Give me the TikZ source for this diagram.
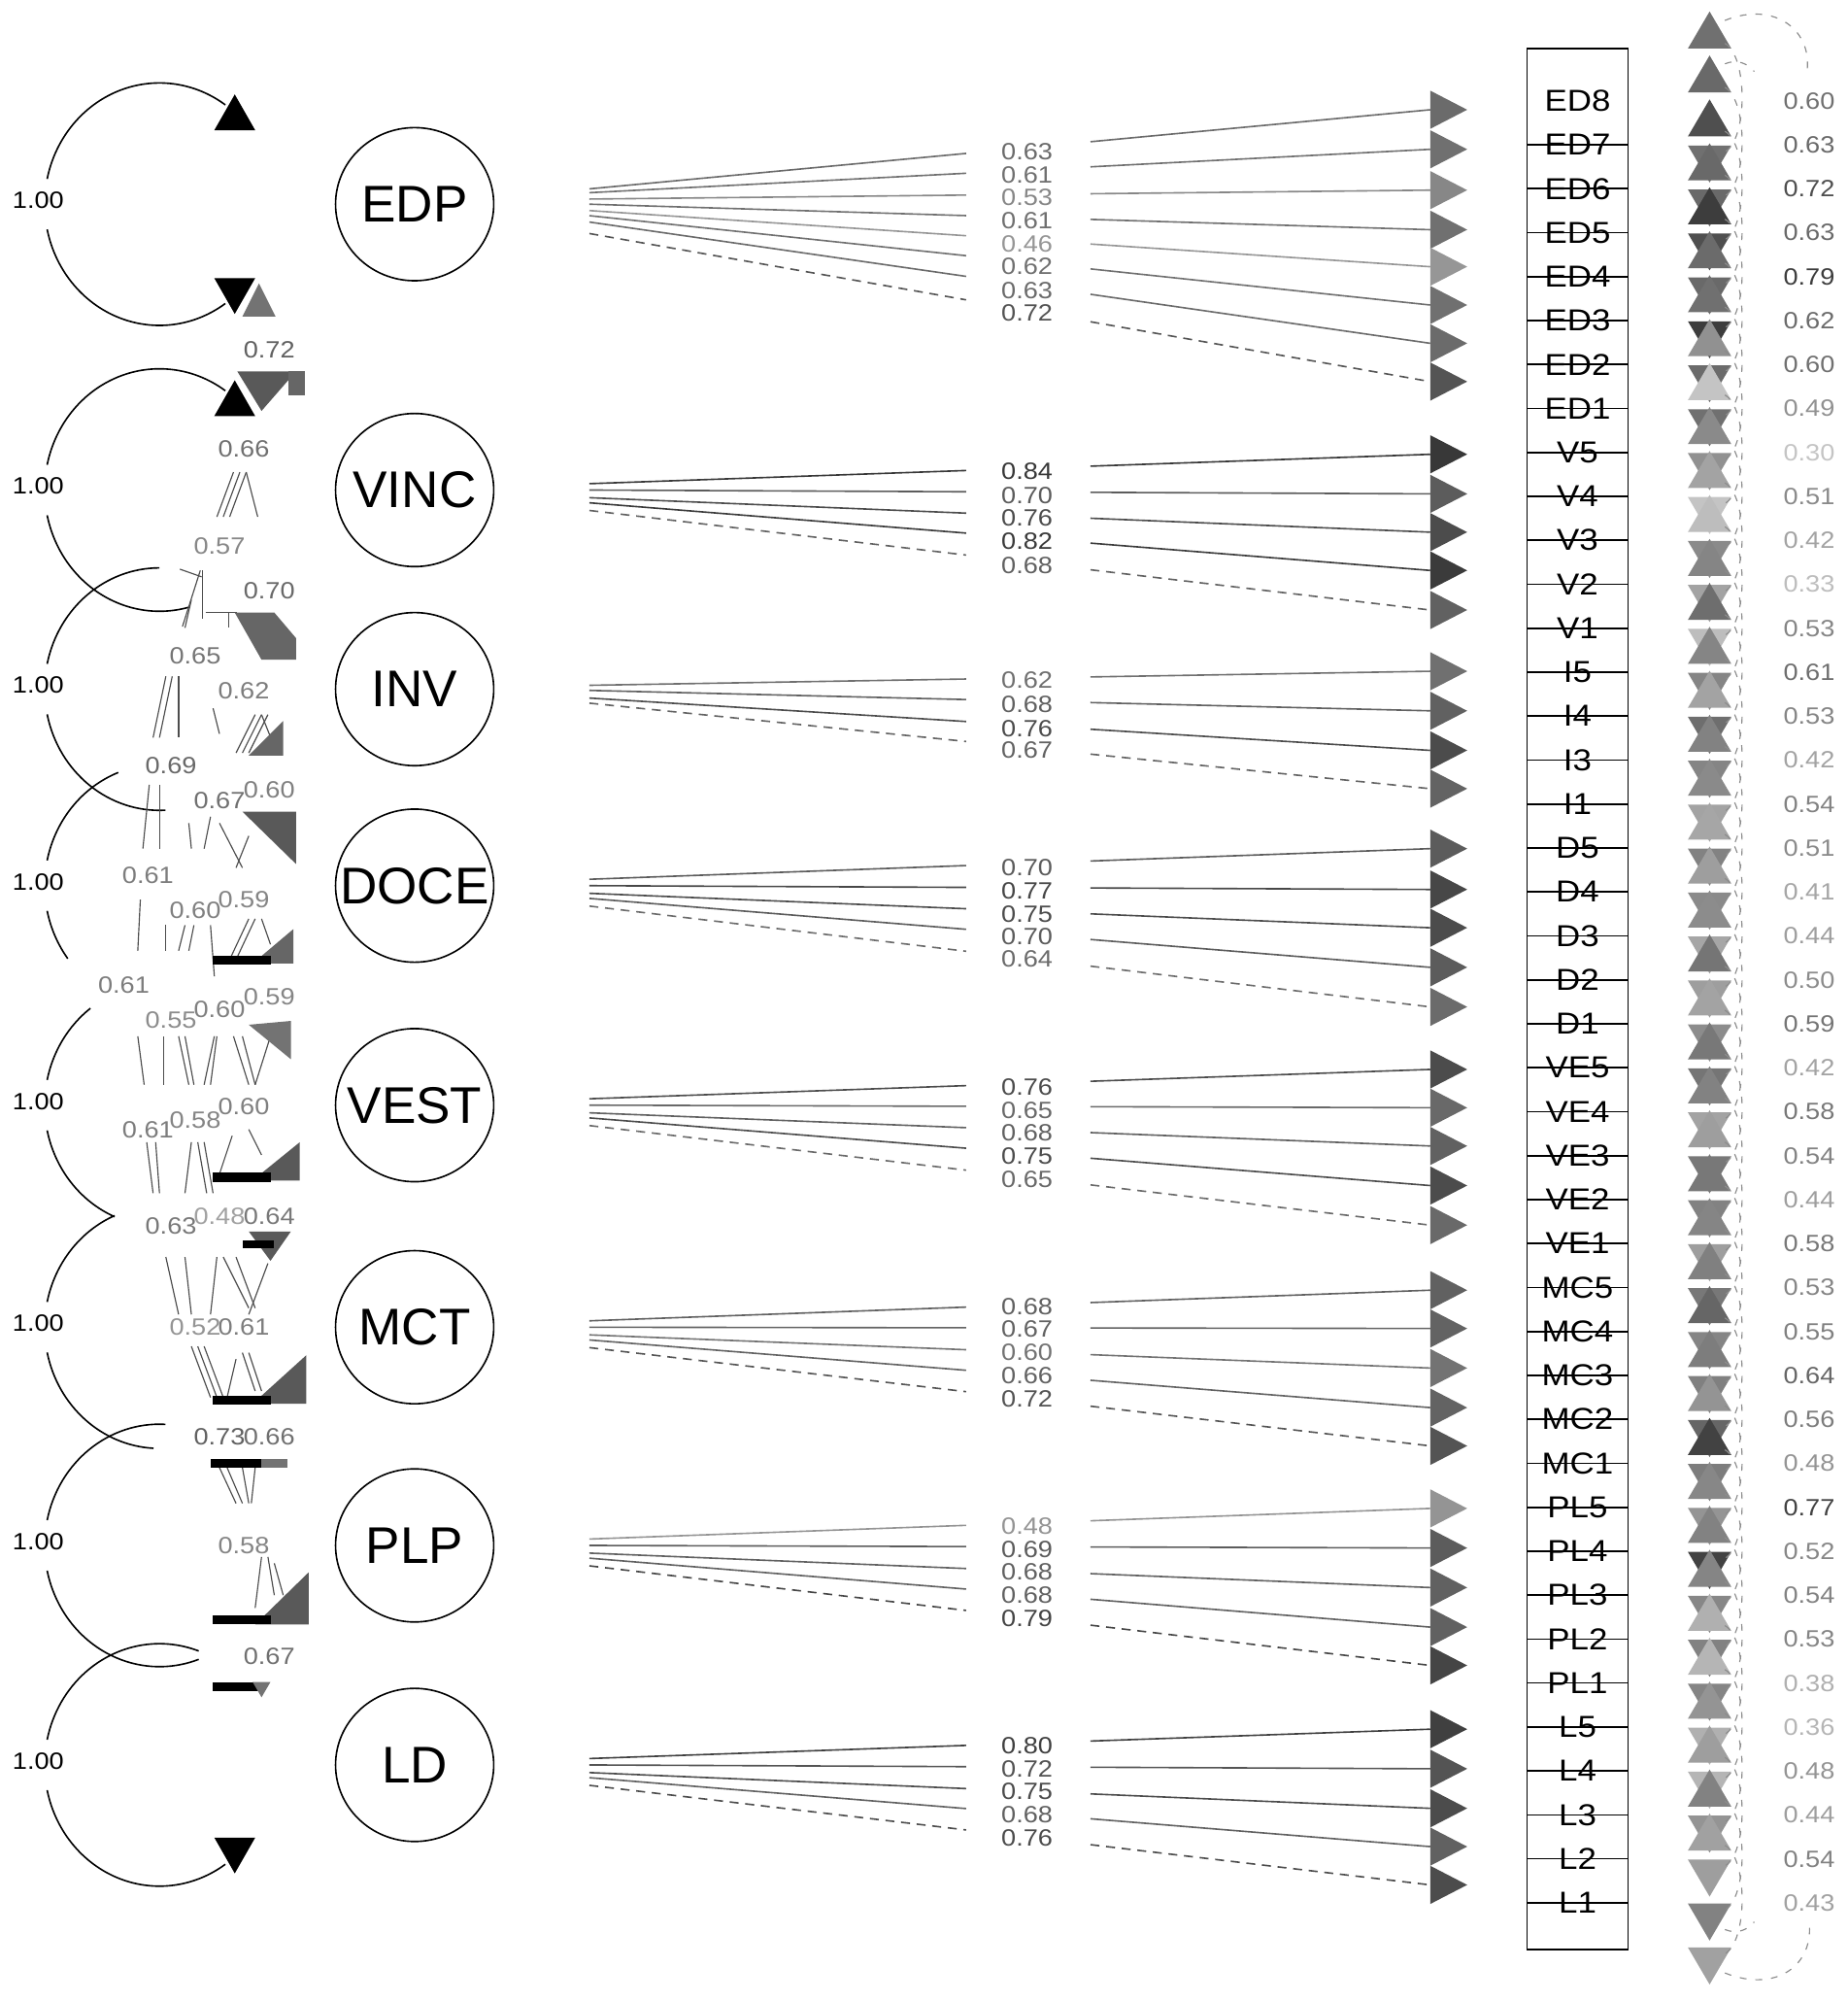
\documentclass[tikz,border=0pt]{standalone}
\usepackage{fontspec}
\setmainfont{Liberation Sans}
\newfontfamily\numfont[FakeStretch=1.12]{Liberation Sans}
\usetikzlibrary{calc,shapes.geometric}

\tikzset{
  latent/.style={draw, ellipse, line width=0.7pt, minimum width=2.48cm, minimum height=2.4cm, inner xsep=-9pt, inner ysep=0pt, font=\fontsize{23}{26}\selectfont},
  item/.style={inner sep=0pt, font=\numfont\fontsize{13.5}{15}\selectfont},
  num/.style={inner sep=0pt, font=\numfont\fontsize{10.5}{12}\selectfont},
  load/.style={line width=0.7pt},
  dsh/.style={dash pattern=on 4pt off 3pt},
  varloop/.style={line width=0.7pt},
  covline/.style={line width=0.5pt, black!70},
  resid/.style={line width=0.5pt, black!45, dash pattern=on 3pt off 4pt},
  sep/.style={line width=0.7pt}
}

\begin{document}
\begin{tikzpicture}[x=0.02cm, y=-0.02cm]
\useasboundingbox (0,0) rectangle (1448,1568);
%%Latents
\node[latent] (EDP) at (325,160) {EDP};
\node[latent] (VINC) at (325,384) {VINC};
\node[latent] (INV) at (325,540) {INV};
\node[latent] (DOCE) at (325,694) {DOCE};
\node[latent] (VEST) at (325,866) {VEST};
\node[latent] (MCT) at (325,1040) {MCT};
\node[latent] (PLP) at (325,1211) {PLP};
\node[latent] (LD) at (325,1383) {LD};

%%Variance loops
\foreach \c/\ta/\ba in {160/-55/55, 384/-55/75, 540/-90/87, 694/-111/143, 866/-127/113, 1040/-113/93, 1211/-87/70, 1383/-70/55}
{
  \draw[varloop] (125,\c) ++(\ta:90 and 95) arc[start angle=\ta, end angle=-168, x radius=90, y radius=95];
  \draw[varloop] (125,\c) ++(168:90 and 95) arc[start angle=168, end angle=\ba, x radius=90, y radius=95];
  \node[num] at (30,\c-3) {1.00};
}
\fill (184,74) -- (168,102) -- (200,102) -- cycle;
\fill (168,218) -- (200,218) -- (184,246) -- cycle;
\fill (184,298) -- (168,326) -- (200,326) -- cycle;
\fill (168,1440) -- (200,1440) -- (184,1468) -- cycle;

%%Covariances
\foreach \xa/\ya/\xb/\yb in {
  170/405/183/370, 175/405/188/370, 180/405/193/370, 193/370/202/405,
  157/447/143/491, 159/447/159/485, 150/470/145/492, 141/446/158/452,
  120/578/130/530, 125/578/135/530, 140/530/140/578, 167/555/172/575,
  185/590/200/560, 190/590/205/560, 195/590/210/560, 205/560/215/585,
  112/665/117/615, 125/665/125/615,
  150/665/148/645, 160/665/165/640, 172/645/190/680, 185/680/195/655,
  108/745/110/705,
  130/745/130/725, 140/745/145/725, 148/745/152/725, 165/725/168/765,
  180/752/195/720, 185/752/200/720, 205/720/212/740,
  108/812/113/850, 128/812/128/850, 140/812/148/850, 145/812/152/850,
  160/850/168/812, 165/850/170/812, 183/812/195/850, 190/812/200/850, 200/850/212/812,
  115/895/120/935, 122/895/125/935, 145/935/150/895, 155/895/162/935, 160/895/167/935,
  172/920/182/890, 195/885/205/905,
  130/985/140/1030, 145/985/150/1030, 165/1030/170/985, 175/985/195/1025, 185/985/200/1025, 195/1030/210/990,
  150/1055/165/1095, 155/1055/170/1095, 160/1055/175/1095, 178/1095/185/1065, 190/1060/200/1090, 195/1060/205/1090,
  172/1150/185/1178, 178/1150/190/1178, 190/1150/195/1178, 200/1150/197/1178,
  205/1220/200/1260, 210/1220/215/1250, 215/1225/222/1250}
  \draw[covline] (\xa,\ya) -- (\xb,\yb);
\fill[black!55] (203,222) -- (190,248) -- (216,248) -- cycle;
\fill[black!65] (186,291) -- (232,291) -- (205,322) -- cycle;
\fill[black!60] (226,291) rectangle (239,310);
\draw[covline] (161,480) -- (186,480) (179,480) -- (179,492);
\fill[black!60] (184,480) -- (215,480) -- (232,500) -- (232,517) -- (205,517) -- cycle;
\fill[black!60] (222,565) -- (222,592) -- (195,592) -- cycle;
\fill[black!65] (190,636) -- (232,636) -- (232,677) -- cycle;
\fill[black!60] (230,728) -- (230,755) -- (198,755) -- cycle;
\fill (167,749) rectangle (212,756);
\fill[black!55] (195,803) -- (228,800) -- (228,830) -- cycle;
\fill[black!65] (235,895) -- (235,925) -- (198,925) -- cycle;
\fill (167,919) rectangle (212,926);
\fill[black!65] (195,965) -- (228,965) -- (212,988) -- cycle;
\fill (190,972) rectangle (215,978);
\fill[black!65] (240,1062) -- (240,1100) -- (198,1100) -- cycle;
\fill (167,1094) rectangle (212,1101);
\fill (165,1143) rectangle (212,1150);
\fill[black!55] (205,1143) rectangle (225,1150);
\fill[black!65] (242,1232) -- (242,1273) -- (200,1273) -- cycle;
\fill (167,1266) rectangle (212,1273);
\fill (167,1318) rectangle (205,1325);
\fill[black!55] (198,1318) -- (212,1318) -- (205,1330) -- cycle;
\foreach \x/\y/\v in {211/274/0.72, 191/352/0.66, 172/428/0.57, 211/463/0.70, 153/514/0.65, 191/541/0.62,
  134/600/0.69, 172/627/0.67, 211/619/0.60, 116/686/0.61, 153/713/0.60, 191/705/0.59,
  97/772/0.61, 134/799/0.55, 172/791/0.60, 211/781/0.59, 116/885/0.61, 153/878/0.58, 191/867/0.60,
  134/961/0.63, 172/953/0.48, 211/953/0.64, 153/1040/0.52, 191/1040/0.61, 172/1126/0.73, 211/1126/0.66,
  191/1211/0.58, 211/1298/0.67}
{
  \pgfmathtruncatemacro\g{\v*100-10}
  \node[num, text=black!\g] at (\x,\y) {\v};
}

%%Items
\node[draw, line width=0.7pt, minimum width=1.58cm, minimum height=29.8cm, inner sep=0pt] (box) at (1236.5,783) {};
\foreach \lab [count=\k from 0] in {ED8,ED7,ED6,ED5,ED4,ED3,ED2,ED1,V5,V4,V3,V2,V1,I5,I4,I3,I1,D5,D4,D3,D2,D1,VE5,VE4,VE3,VE2,VE1,MC5,MC4,MC3,MC2,MC1,PL5,PL4,PL3,PL2,PL1,L5,L4,L3,L2,L1}
  \node[item] (\lab) at (1236.5,{79+34.44*\k}) {\lab};
\foreach \lab in {ED7,ED6,ED5,ED4,ED3,ED2,ED1,V5,V4,V3,V2,V1,I5,I4,I3,I1,D5,D4,D3,D2,D1,VE5,VE4,VE3,VE2,VE1,MC5,MC4,MC3,MC2,MC1,PL5,PL4,PL3,PL2,PL1,L5,L4,L3,L2,L1}
  \draw[sep] (box.west |- \lab) -- (box.east |- \lab);

%%Loadings
\foreach \lat/\lab/\o/\a/\l/\v/\d in {
  EDP/ED8/-12/86/119/0.63/solid, EDP/ED7/-9/117/137/0.61/solid, EDP/ED6/-4/149/155/0.53/solid,
  EDP/ED5/0/180/173/0.61/solid, EDP/ED4/5/209/191/0.46/solid, EDP/ED3/9/239/209/0.62/solid,
  EDP/ED2/14/269/228/0.63/solid, EDP/ED1/23/299/245/0.72/dsh,
  VINC/V5/-5/356/369/0.84/solid, VINC/V4/0/387/388/0.70/solid, VINC/V3/6/417/406/0.76/solid,
  VINC/V2/10/447/424/0.82/solid, VINC/V1/16/478/443/0.68/dsh,
  INV/I5/-3/526/533/0.62/solid, INV/I4/1/557/552/0.68/solid, INV/I3/7/588/571/0.76/solid,
  INV/I1/11/618/588/0.67/dsh,
  DOCE/D5/-5/665/680/0.70/solid, DOCE/D4/0/697/698/0.77/solid, DOCE/D3/6/727/716/0.75/solid,
  DOCE/D2/10/758/734/0.70/solid, DOCE/D1/16/789/751/0.64/dsh,
  VEST/VE5/-5/838/852/0.76/solid, VEST/VE4/0/868/870/0.65/solid, VEST/VE3/6/898/888/0.68/solid,
  VEST/VE2/10/929/906/0.75/solid, VEST/VE1/16/960/924/0.65/dsh,
  MCT/MC5/-5/1011/1024/0.68/solid, MCT/MC4/0/1041/1041/0.67/solid, MCT/MC3/6/1072/1060/0.60/solid,
  MCT/MC2/10/1103/1078/0.66/solid, MCT/MC1/16/1133/1096/0.72/dsh,
  PLP/PL5/-5/1182/1196/0.48/solid, PLP/PL4/0/1213/1214/0.69/solid, PLP/PL3/6/1244/1232/0.68/solid,
  PLP/PL2/10/1275/1250/0.68/solid, PLP/PL1/16/1305/1268/0.79/dsh,
  LD/L5/-5/1355/1368/0.80/solid, LD/L4/0/1386/1386/0.72/solid, LD/L3/6/1417/1404/0.75/solid,
  LD/L2/10/1447/1422/0.68/solid, LD/L1/16/1477/1440/0.76/dsh}
{
  \pgfmathtruncatemacro\g{\v*100-5}
  \coordinate (s-\lab) at ($(\lat)+(137,\o)$);
  \coordinate (b-\lab) at (1121,\a);
  \draw[load, black!\g, \d] (s-\lab) -- ($(s-\lab)!0.448!(b-\lab)$) ($(s-\lab)!0.596!(b-\lab)$) -- (b-\lab);
  \fill[black!\g] (b-\lab) -- ++(0,-15) -- ++(29,15) -- ++(-29,15) -- cycle;
  \node[num, text=black!\g] (w-\lab) at (805,\l) {\v};
}

%%Residuals
\foreach \v [count=\k from 0] in {0.60,0.63,0.72,0.63,0.79,0.62,0.60,0.49,0.30,0.51,0.42,0.33,0.53,0.61,
  0.53,0.42,0.54,0.51,0.41,0.44,0.50,0.59,0.42,0.58,0.54,0.44,0.58,0.53,0.55,0.64,0.56,0.48,0.77,0.52,
  0.54,0.53,0.38,0.36,0.48,0.44,0.54,0.43}
{
  \pgfmathsetmacro\y{79+34.44*\k}
  \pgfmathtruncatemacro\g{\v*110-10}
  \fill[black!\g] (1340,\y-70) -- (1323,\y-41) -- (1357,\y-41) -- cycle;
  \fill[black!\g] (1323,\y+35) -- (1357,\y+35) -- (1340,\y+64) -- cycle;
  \draw[resid] (1352,\y-45) .. controls (1370,\y-35) and (1370,\y+30) .. (1352,\y+40);
  \node[num, text=black!\g] at (1418,\y) {\v};
}
\draw[resid] (1352,16) .. controls (1392,0) and (1422,25) .. (1416,58);
\draw[resid] (1352,50) .. controls (1362,46) and (1370,50) .. (1375,56);
\draw[resid] (1352,1546) .. controls (1392,1562) and (1422,1540) .. (1418,1506);
\draw[resid] (1352,1512) .. controls (1362,1516) and (1370,1512) .. (1375,1506);
\end{tikzpicture}
\end{document}
